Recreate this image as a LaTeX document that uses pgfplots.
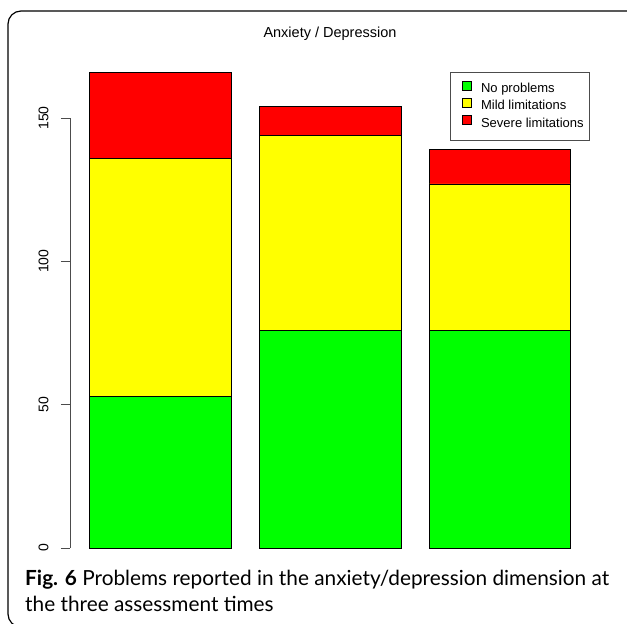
\documentclass[border=0pt]{standalone}
\usepackage{fontspec}
\setmainfont{Liberation Sans}
\newfontfamily\capfont{Lato}
\usepackage{pgfplots}
\pgfplotsset{compat=1.18}
\definecolor{rgreen}{RGB}{0,255,0}
\definecolor{ryellow}{RGB}{255,255,0}
\definecolor{rred}{RGB}{255,0,0}
\pgfplotsset{
  sq/.style={legend image code/.code={
    \draw[draw=none,fill=none] (-8pt,0pt) rectangle (17pt,9pt);
    \draw[fill=#1,draw=black,line width=0.6pt] (0pt,0pt) rectangle (9pt,9pt);}}
}
\begin{document}
\begin{tikzpicture}[x=1pt,y=1pt]
\useasboundingbox (0,0) rectangle (627,624);
\begin{scope}
\clip (0,0) rectangle (627,624);
\draw[line width=1.2pt, rounded corners=13pt] (8,-3) rectangle (660,613);
\end{scope}
\begin{axis}[
  at={(70pt,57pt)}, anchor=south west,
  scale only axis, width=520pt, height=514pt,
  xmin=0.064, xmax=3.736, ymin=-6.64, ymax=172.64,
  ybar stacked, bar width=1,
  axis x line=none,
  axis y line*=left,
  y axis line style={draw=none},
  ytick={0,50,100,150},
  ytick align=outside,
  major tick length=9pt,
  ytick style={black!70, line width=0.7pt},
  yticklabel style={rotate=90, anchor=south, font=\fontsize{14}{16}\selectfont, yshift=9pt},
  /pgf/number format/assume math mode=true,
  title={Anxiety / Depression},
  title style={font=\fontsize{14.5}{17}\selectfont, at={(0.5,1)}, anchor=base, yshift=9pt},
  legend style={at={(axis cs:3.736,166)}, anchor=north east, draw=black!70, line width=0.7pt,
    font=\fontsize{13}{15.7}\selectfont, inner xsep=4pt, inner ysep=8.5pt, row sep=0pt,
    nodes={inner ysep=0pt, text height=10.5pt, text depth=5.2pt}},
  legend cell align=left,
]
\addplot[fill=rgreen, draw=black, line width=0.6pt, sq=rgreen] coordinates {(0.7,53) (1.9,76) (3.1,76)};
\addlegendentry{No problems}
\addplot[fill=ryellow, draw=black, line width=0.6pt, sq=ryellow] coordinates {(0.7,83) (1.9,68) (3.1,51)};
\addlegendentry{Mild limitations}
\addplot[fill=rred, draw=black, line width=0.6pt, sq=rred] coordinates {(0.7,30) (1.9,10) (3.1,12)};
\addlegendentry{Severe limitations}
\draw[black!70, line width=0.7pt] (axis cs:0.064,0) -- (axis cs:0.064,150);
\end{axis}
\node[anchor=base west, inner sep=0pt, font=\capfont\fontsize{20.8}{24}\selectfont] at (25,38) {\textbf{Fig. 6} Problems reported in the anxiety/depression dimension at};
\node[anchor=base west, inner sep=0pt, font=\capfont\fontsize{20.8}{24}\selectfont] at (25,12.3) {the three assessment times};
\end{tikzpicture}
\end{document}
